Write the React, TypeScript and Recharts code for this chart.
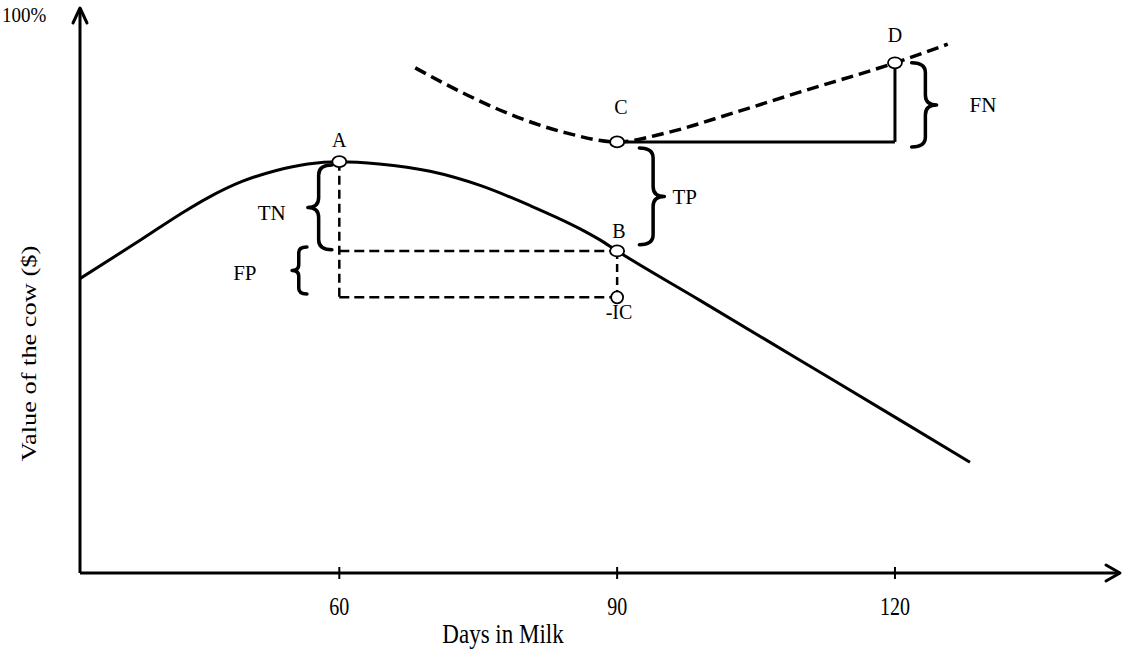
import React from 'react';
import {
  ComposedChart,
  Line,
  XAxis,
  YAxis,
  ReferenceLine,
  ReferenceDot,
  ReferenceArea,
} from 'recharts';

const FONT = '"Liberation Serif", "Times New Roman", serif';

// value of the cow (% of max) against days in milk
const solidDays = [32, 38.7, 43.2, 45.8, 49.5, 53.1, 56.6, 60, 64.3, 69.8, 75.2, 80.5, 85.9, 88.1, 90, 98.9, 109.7, 120.5, 128.1];
const solidValue = [52.1, 59.1, 63.9, 66.4, 69.3, 71.2, 72.4, 72.8, 72.4, 71.1, 68.6, 65.1, 61.0, 59.0, 57.0, 48.3, 37.7, 27.1, 19.6];

const dashedDays = [68.2, 73.8, 79.2, 84.5, 90, 95.3, 102.5, 109.7, 120, 125.7];
const dashedValue = [89.4, 84.6, 80.7, 77.9, 76.3, 77.9, 81.4, 85.1, 90.3, 93.6];

const xTicks = [60, 90, 120];

// marked points
const pointNames = ['A', 'B', 'C', 'D', '-IC'];
const pointDays = [60, 90, 90, 120, 90];
const pointValue = [72.8, 57.0, 76.3, 90.3, 48.8];

// text annotations
const labelText = ['A', 'B', 'C', 'D', '-IC', 'TN', 'FP', 'TP', 'FN'];
const labelDay = [60, 90.2, 90.4, 120, 90.2, 52.7, 49.8, 97.3, 129.5];
const labelValue = [76.6, 60.6, 82.5, 95.2, 46.2, 63.7, 53.1, 66.5, 82.8];

// braces
const braceSide = ['left', 'left', 'right', 'right'];
const braceDay0 = [56.6, 54.9, 92.4, 121.8];
const braceDay1 = [59.2, 56.5, 95.1, 124.5];
const braceTop = [72.2, 57.7, 75.2, 90.3];
const braceBottom = [57.2, 49.4, 58.1, 75.4];

const solidData = solidDays.map((d, i) => ({ day: d, value: solidValue[i] }));
const dashedData = dashedDays.map((d, i) => ({ day: d, value: dashedValue[i] }));

const X_MIN = 32;
const X_MAX = 144.3;

// text slightly stretched vertically, like the original figure
const TallText = ({ x, y, size, sy, anchor = 'middle', children }: any) => (
  <text
    transform={`translate(${x} ${y}) scale(1 ${sy})`}
    textAnchor={anchor}
    fontFamily={FONT}
    fontSize={size}
    fill="#000"
  >
    {children}
  </text>
);

const Tick = (props: any) => {
  const { x, y, payload } = props;
  return (
    <g>
      <line x1={x} x2={x} y1={y - 6} y2={y + 6} stroke="#000" strokeWidth={2} />
      <TallText x={x} y={y + 42} size={20} sy={1.3}>
        {payload.value}
      </TallText>
    </g>
  );
};

const bracePath = (x: number, y: number, w: number, h: number, side: string) => {
  const r = Math.min(h * 0.12, 10);
  const mid = y + h / 2;
  if (side === 'left') {
    const m = x + w * 0.45;
    return `M${x + w},${y} Q${m},${y} ${m},${y + r} L${m},${mid - r} Q${m},${mid} ${x},${mid} Q${m},${mid} ${m},${mid + r} L${m},${y + h - r} Q${m},${y + h} ${x + w},${y + h}`;
  }
  const m = x + w * 0.55;
  return `M${x},${y} Q${m},${y} ${m},${y + r} L${m},${mid - r} Q${m},${mid} ${x + w},${mid} Q${m},${mid} ${m},${mid + r} L${m},${y + h - r} Q${m},${y + h} ${x},${y + h}`;
};

export default function App() {
  return (
    <div style={{ position: 'absolute', left: 0, top: 0, background: '#fff' }}>
      <ComposedChart width={1128} height={651} margin={{ top: 8, right: 8, bottom: 0, left: 0 }}>
        <XAxis
          dataKey="day"
          type="number"
          domain={[X_MIN, X_MAX]}
          ticks={xTicks}
          tick={<Tick />}
          tickSize={0}
          tickMargin={0}
          tickLine={false}
          height={78}
          axisLine={{ stroke: '#000', strokeWidth: 3 }}
          allowDataOverflow
          label={{
            content: (p: any) => {
              const vb = p.viewBox || { x: 80, y: 573 };
              return (
                <TallText x={vb.x + 423} y={vb.y + 70} size={23} sy={1.2}>
                  Days in Milk
                </TallText>
              );
            },
          }}
        />
        <YAxis
          type="number"
          domain={[0, 100]}
          width={80}
          tick={false}
          tickLine={false}
          axisLine={{ stroke: '#000', strokeWidth: 3 }}
          allowDataOverflow
          label={{
            content: (p: any) => {
              const vb = p.viewBox || { x: 0, y: 8, height: 565 };
              const cx = vb.x + 36;
              const cy = vb.y + vb.height / 2 + 63;
              return (
                <text
                  transform={`translate(${cx} ${cy}) scale(1 1.2) rotate(-90)`}
                  textAnchor="middle"
                  fontFamily={FONT}
                  fontSize={22}
                  fill="#000"
                >
                  Value of the cow ($)
                </text>
              );
            },
          }}
        />

        <Line
          data={solidData}
          dataKey="value"
          type="monotone"
          stroke="#000"
          strokeWidth={3}
          dot={false}
          activeDot={false}
          isAnimationActive={false}
        />
        <Line
          data={dashedData}
          dataKey="value"
          type="monotone"
          stroke="#000"
          strokeWidth={3.5}
          strokeDasharray="12 6"
          dot={false}
          activeDot={false}
          isAnimationActive={false}
        />

        {/* dashed guides around A, B and -IC */}
        <ReferenceLine
          segment={[{ x: pointDays[0], y: pointValue[0] }, { x: pointDays[0], y: pointValue[4] }]}
          stroke="#000"
          strokeWidth={2.5}
          strokeDasharray="9 5"
        />
        <ReferenceLine
          segment={[{ x: pointDays[0], y: pointValue[1] }, { x: pointDays[1], y: pointValue[1] }]}
          stroke="#000"
          strokeWidth={2.5}
          strokeDasharray="10 5"
        />
        <ReferenceLine
          segment={[{ x: pointDays[0], y: pointValue[4] }, { x: pointDays[4], y: pointValue[4] }]}
          stroke="#000"
          strokeWidth={2.5}
          strokeDasharray="10 5"
        />
        <ReferenceLine
          segment={[{ x: pointDays[1], y: pointValue[1] }, { x: pointDays[4], y: pointValue[4] }]}
          stroke="#000"
          strokeWidth={2.5}
          strokeDasharray="8 5"
        />

        {/* solid C -> D step */}
        <ReferenceLine
          segment={[{ x: pointDays[2], y: pointValue[2] }, { x: pointDays[3], y: pointValue[2] }]}
          stroke="#000"
          strokeWidth={3}
        />
        <ReferenceLine
          segment={[{ x: pointDays[3], y: pointValue[2] }, { x: pointDays[3], y: pointValue[3] }]}
          stroke="#000"
          strokeWidth={3}
        />

        {braceSide.map((side, i) => (
          <ReferenceArea
            key={`brace-${i}`}
            x1={braceDay0[i]}
            x2={braceDay1[i]}
            y1={braceBottom[i]}
            y2={braceTop[i]}
            shape={(p: any) => (
              <path
                d={bracePath(p.x, p.y, p.width, p.height, side)}
                fill="none"
                stroke="#000"
                strokeWidth={3.5}
                strokeLinecap="round"
                strokeLinejoin="round"
              />
            )}
          />
        ))}

        {/* axis arrowheads */}
        <ReferenceDot
          x={X_MAX}
          y={0}
          ifOverflow="visible"
          shape={(p: any) => (
            <path
              d={`M${p.cx - 14},${p.cy - 8} L${p.cx},${p.cy} L${p.cx - 14},${p.cy + 8}`}
              fill="none"
              stroke="#000"
              strokeWidth={3}
              strokeLinecap="round"
              strokeLinejoin="round"
            />
          )}
        />
        <ReferenceDot
          x={X_MIN}
          y={100}
          ifOverflow="visible"
          shape={(p: any) => (
            <path
              d={`M${p.cx - 7},${p.cy + 15} L${p.cx},${p.cy} L${p.cx + 7},${p.cy + 15}`}
              fill="none"
              stroke="#000"
              strokeWidth={3}
              strokeLinecap="round"
              strokeLinejoin="round"
            />
          )}
        />

        {pointNames.map((n, i) => (
          <ReferenceDot
            key={`pt-${n}`}
            x={pointDays[i]}
            y={pointValue[i]}
            ifOverflow="visible"
            shape={(p: any) => (
              <ellipse
                cx={p.cx}
                cy={p.cy}
                rx={n === '-IC' ? 6 : 7}
                ry={n === '-IC' ? 6 : 5.5}
                fill="#fff"
                stroke="#000"
                strokeWidth={1.8}
              />
            )}
          />
        ))}

        {labelText.map((t, i) => (
          <ReferenceDot
            key={`lbl-${i}`}
            x={labelDay[i]}
            y={labelValue[i]}
            ifOverflow="visible"
            shape={(p: any) => (
              <text
                x={p.cx}
                y={p.cy}
                textAnchor="middle"
                dominantBaseline="central"
                fontFamily={FONT}
                fontSize={i < 5 ? 20 : 21}
                fill="#000"
              >
                {t}
              </text>
            )}
          />
        ))}

        <ReferenceDot
          x={X_MIN}
          y={100}
          ifOverflow="visible"
          shape={(p: any) => (
            <TallText x={p.cx - 78} y={p.cy + 14} size={19} sy={1.15} anchor="start">
              100%
            </TallText>
          )}
        />
      </ComposedChart>
    </div>
  );
}
